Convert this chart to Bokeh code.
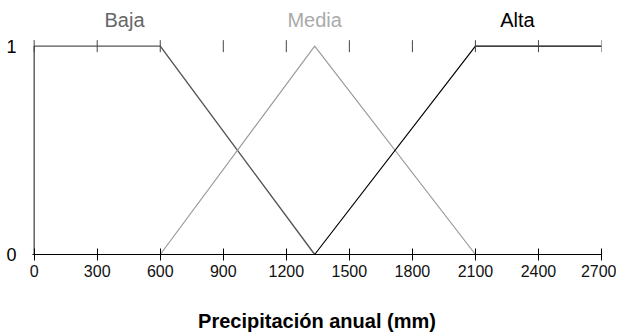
import math
from bokeh.plotting import figure
from bokeh.models import Range1d, FixedTicker
from bokeh.core.properties import value
from bokeh.embed import file_html
from bokeh.resources import INLINE

# data
x_ticks = [0, 300, 600, 900, 1200, 1500, 1800, 2100, 2400, 2700]
y_ticks = [0, 1]
baja_x = [0, 0, 600, 1335]
baja_y = [0, 1, 1, 0]
media_x = [600, 1335, 2100]
media_y = [0, 1, 0]
alta_x = [1335, 2100, 2700]
alta_y = [0, 1, 1]
set_names = ["Baja", "Media", "Alta"]
set_label_x = [430, 1335, 2300]
x_title = "Precipitación anual (mm)"

FONT = "Liberation Sans"
LABEL_Y = 1.125

p = figure(width=616, height=334, output_backend="svg", toolbar_location=None,
           x_range=Range1d(-8, 2700), y_range=Range1d(0, 1.2),
           min_border_left=32, min_border_right=15, min_border_top=4,
           min_border_bottom=80)
p.outline_line_color = None
p.grid.visible = False
p.background_fill_color = "white"
p.border_fill_color = "white"

# bottom axis
xa = p.xaxis[0]
xa.ticker = FixedTicker(ticks=x_ticks)
xa.axis_line_color = "black"
xa.major_tick_line_color = "black"
xa.major_tick_in = 6
xa.major_tick_out = 6
xa.minor_tick_line_color = None
xa.major_label_text_font = FONT
xa.major_label_text_font_size = "16px"
xa.major_label_text_color = "#111111"
xa.major_label_standoff = 4
xa.axis_label = x_title
xa.axis_label_text_font = FONT
xa.axis_label_text_font_size = "20px"
xa.axis_label_text_font_style = "bold"
xa.axis_label_text_color = "black"
xa.axis_label_standoff = 30

# left axis
ya = p.yaxis[0]
ya.ticker = FixedTicker(ticks=y_ticks)
ya.axis_line_color = None
ya.major_tick_line_color = None
ya.minor_tick_line_color = None
ya.major_tick_in = 0
ya.major_tick_out = 0
ya.major_label_text_font = FONT
ya.major_label_text_font_size = "18px"
ya.major_label_text_color = "black"
ya.major_label_standoff = 16

# membership lines
p.line(baja_x, baja_y, line_color="#555555", line_width=1.4)
p.line(media_x, media_y, line_color="#9a9a9a", line_width=1.2)
p.line(alta_x, alta_y, line_color="#000000", line_width=1.2)

# tick marks along membership 1
p.scatter(x_ticks, [1] * len(x_ticks), marker="dash", angle=math.pi / 2,
          size=12, line_color="#444444", line_width=1)

# set names
label_colors = ["#666666", "#aaaaaa", "#000000"]
p.text(set_label_x, [LABEL_Y] * 3, text=set_names, text_color=label_colors,
       text_align="center", text_baseline="middle",
       text_font=value(FONT), text_font_size="20px")

open("out.html", "w").write(file_html(p, INLINE))
